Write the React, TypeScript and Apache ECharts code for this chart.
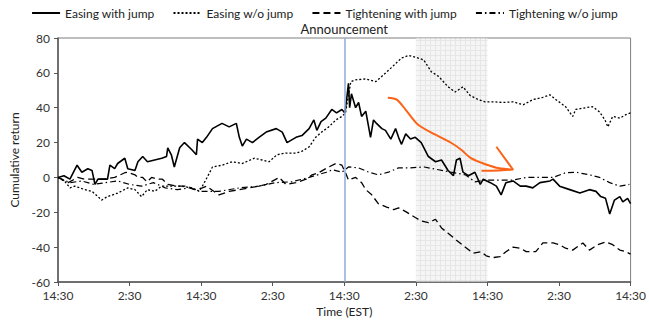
import React, { useEffect, useRef } from "react";
import * as echarts from "echarts";

const seriesNames = ["Easing with jump", "Easing w/o jump", "Tightening with jump", "Tightening w/o jump"];
const xTickLabels = ["14:30", "2:30", "14:30", "2:30", "14:30", "2:30", "14:30", "2:30", "14:30"];
const announcementHour = 48;
const shadedRange = [60, 72];

const easingJump: number[][] = [
  [0,0],[1,1],[2,-1],[3.2,7],[4,3],[5,5],[5.7,4],[6.2,-4],[6.7,-1],[8.3,-1],[8.7,7],[9.5,5],[10,8],[11.2,11],[11.7,5],[12.9,4],[13.4,9],[14.2,12],[15,9],[16.2,10],[17.4,11],[18.2,12],[18.4,17],[19,13],[19.5,6],[20.4,17],[21.2,20],[22.4,16],[23.2,13],[23.4,22],[24.2,20],[24.9,23],[25.9,28],[27.5,31],[28.7,29],[29.9,31],[30.4,23],[30.9,18],[31.6,22],[32.6,20],[33.7,23],[34.9,26],[36.6,28],[37.6,26],[38.4,20],[39.9,23],[40.9,24],[42.1,28],[42.9,33],[43.4,27],[44.1,32],[44.9,34],[45.9,39],[46.7,37],[47.6,39],[48.1,37],[48.4,45],[48.7,54],[48.9,40],[49.2,48],[49.9,40],[50.4,43],[50.9,35],[51.6,38],[52.4,23],[52.9,33],[53.4,31],[54.3,28],[54.9,27],[55.8,22],[56.6,28],[57.1,23],[57.6,19],[58.3,25],[59.1,22],[59.9,23],[60.9,20],[62.1,12],[63.3,9],[64.3,10],[65.4,4],[66.3,1],[66.8,10],[67.4,11],[67.9,3],[68.8,1],[69.9,3],[70.8,-4],[71.3,-1],[72.5,-3],[73.5,-5],[74.3,-10],[75.1,-3],[76.3,-2],[77.5,-5],[78.5,-5],[79.6,-6],[80.8,-3],[82.5,-2],[83,-1],[84.1,-5],[85.8,-7],[87.5,-9],[89.1,-7],[90.2,-8],[91,-11],[91.8,-12],[92.5,-21],[93.3,-13],[94.2,-11],[94.7,-14],[95.5,-12],[96,-15]
];

const easingNoJump: number[][] = [
  [0,0],[1.2,-2.5],[2,-6],[2.8,-5],[4.5,-7],[5.7,-8],[6.7,-11],[7.3,-13],[8.3,-11],[10,-9],[11.7,-6],[12.9,-7],[14,-11],[15,-7],[16.2,-8],[17.4,-5],[18.4,-5],[20.7,-5],[22.4,-6],[23.7,-8],[24.2,-5],[25,0],[25.9,6],[27.5,7],[29.2,9],[30.9,8],[32.9,11],[34.2,10],[35.4,9],[36.7,13],[38.2,14],[39.9,14],[40.9,15],[42.1,17.5],[43.2,23],[44.2,26],[45.4,29],[46.6,33],[47.6,35],[48.2,37],[49.1,55],[49.9,56],[51.6,56.5],[53.3,55],[54.3,58],[55.9,63],[57.6,68.5],[58.8,70],[59.9,69],[61.3,67.5],[62.6,60.6],[63.8,58],[65.4,52],[66.6,49],[67.9,52],[69.1,47],[70.5,44.6],[71.6,43.4],[73,43.4],[74.6,43],[76.3,43.4],[78,41.7],[79.6,44.6],[81.3,46],[82.5,47.4],[83.5,44.6],[85.1,40.6],[86.3,35],[86.8,39],[88.5,40],[89.6,40.6],[90.8,37.6],[91.7,33],[92.2,29],[93,35],[94.2,34],[95.2,36],[96,37]
];

const tighteningJump: number[][] = [
  [0,0],[1.7,-3],[3.3,0],[4.5,-1],[6.2,-1],[7.8,-1],[9.5,0],[11.2,2.7],[11.7,3],[12.9,1.5],[13.4,0],[14.2,0],[14.9,-2.5],[15.7,0],[16.7,-1],[17.5,-1],[18.4,-4],[20,-5],[21.7,-5],[22.9,-7],[24.2,-6],[24.9,-5],[27,-10],[28.7,-8],[30.4,-7],[32.1,-6],[33.7,-5],[34.9,-4],[37.1,0],[38.2,-4],[39.9,-3],[41.6,-1],[42.6,1.5],[43.7,2.7],[45.4,6],[46.6,8],[47.6,7],[48.2,2.7],[48.7,-1.5],[49.9,0],[50.9,-3],[51.6,-7],[52.6,-10],[53.7,-15],[55.1,-17],[56.3,-18.5],[57.1,-17.5],[58.3,-19.6],[59.9,-23],[60.9,-25],[62.1,-26],[63.3,-24],[64.3,-29],[65.4,-32],[66.8,-36],[68.3,-40],[69.6,-43.5],[70.9,-42.6],[71.8,-45],[72.9,-46],[74.1,-45.5],[75.1,-42.6],[76.3,-40],[77.5,-40.6],[78.5,-42.6],[80.1,-42.6],[81.3,-37.6],[83,-37.6],[84.1,-38.6],[85.1,-40.6],[86.3,-41.7],[88,-37.6],[89.1,-41.7],[90.5,-38.6],[91.8,-37],[93,-38.6],[94.2,-41.7],[95.2,-42.6],[96,-44]
];

const tighteningNoJump: number[][] = [
  [0,0],[2,-3],[4,-2],[6,-4],[8,-3],[10,-2],[12,-4],[14,-5],[16,-3],[18,-6],[20,-7],[22,-6],[24,-8],[27,-8],[30.4,-6],[33.7,-5],[36.4,-3],[39.2,-2.5],[42.1,0],[45,3],[46,4.4],[47.6,3],[48.7,6],[50.4,5.5],[52.1,3],[53.7,1.5],[55.4,3],[57.1,5.5],[59.1,5.5],[61.4,6],[63.8,4.4],[65.9,3],[68.3,1.5],[69.9,-2.5],[71.6,-1.5],[73.5,-1.5],[76.3,-1.5],[78.5,0],[80.8,0],[83,0],[85.1,2.7],[86.8,3],[89.1,1.5],[90.8,0],[92.5,-3],[94.2,-5],[95.8,-4]
];

// hand-drawn orange arrow annotation (data coordinates)
const arrowCurve: number[][] = [
  [55.3,45.7],[56.8,44.6],[58.3,38.8],[60.4,30.2],[63.3,24.5],[65.9,19.9],[67.6,15.9],[69.1,11.4],[71.0,8.4],[73.5,5.6],[76.3,4.4],[71.0,3.8]
];
const arrowHead: number[][] = [[73.5,17.6],[76.3,4.4]];

const dashStyles: any[] = ["solid", [2, 2], [7, 4], [6, 3, 1.5, 3]];
const lineWidths = [1.6, 1.3, 1.3, 1.2];

export default function App() {
  const ref = useRef<HTMLDivElement>(null);
  useEffect(() => {
    if (!ref.current) return;
    const chart = echarts.init(ref.current, null, { renderer: "svg" });
    const c = document.createElement("canvas");
    c.width = 5;
    c.height = 5;
    const ctx = c.getContext("2d");
    if (ctx) {
      ctx.fillStyle = "#eeeeee";
      ctx.fillRect(0, 0, 5, 5);
      ctx.fillStyle = "#d6d6d6";
      ctx.fillRect(0, 0, 5, 1);
      ctx.fillRect(0, 0, 1, 5);
    }
    const font = "Lato";
    const allData = [easingJump, easingNoJump, tighteningJump, tighteningNoJump];
    const series: any[] = allData.map((d, i) => ({
      name: seriesNames[i],
      type: "line",
      data: d,
      symbol: "none",
      showSymbol: false,
      z: 3,
      lineStyle: { color: "#000", width: lineWidths[i], type: dashStyles[i] },
      itemStyle: { color: "#000" },
    }));
    series[0].markLine = {
      silent: true,
      symbol: "none",
      lineStyle: { color: "#8faadc", width: 1.5, type: "solid" },
      label: {
        show: true,
        position: "end",
        formatter: "Announcement",
        color: "#222",
        fontSize: 13,
        fontFamily: font,
        distance: 3,
      },
      data: [{ xAxis: announcementHour }],
    };
    series.push({
      name: "shade",
      type: "line",
      data: [],
      z: 4,
      markArea: {
        silent: true,
        itemStyle: { color: { image: c, repeat: "repeat" } as any, opacity: 0.6 },
        data: [[{ xAxis: shadedRange[0] }, { xAxis: shadedRange[1] }]],
      },
    });
    series.push({
      name: "arrow1",
      type: "line",
      data: arrowCurve,
      symbol: "none",
      smooth: 0.3,
      z: 5,
      lineStyle: { color: "#fb6318", width: 2 },
    });
    series.push({
      name: "arrow2",
      type: "line",
      data: arrowHead,
      symbol: "none",
      z: 5,
      lineStyle: { color: "#fb6318", width: 2 },
    });
    chart.setOption({
      animation: false,
      textStyle: { fontFamily: font },
      legend: {
        data: seriesNames,
        top: 2,
        left: "center",
        itemWidth: 28,
        itemHeight: 8,
        itemGap: 18,
        itemStyle: { opacity: 0 },
        textStyle: { fontSize: 12, color: "#222", fontFamily: font },
      },
      grid: {
        left: 58,
        right: 16,
        top: 38,
        bottom: 41,
        show: true,
        borderColor: "#7f7f7f",
        borderWidth: 1,
      },
      xAxis: {
        type: "value",
        min: 0,
        max: 96,
        interval: 12,
        name: "Time (EST)",
        nameLocation: "middle",
        nameGap: 23,
        nameTextStyle: { fontSize: 12, color: "#222", fontFamily: font },
        axisLine: { onZero: false, lineStyle: { color: "#555", width: 1.5 } },
        axisTick: { show: true, length: 4, lineStyle: { color: "#555" } },
        splitLine: { show: false },
        axisLabel: {
          fontSize: 12,
          color: "#333",
          margin: 7,
          formatter: (v: number) => xTickLabels[Math.round(v / 12)] ?? "",
        },
      },
      yAxis: {
        type: "value",
        min: -60,
        max: 80,
        interval: 20,
        name: "Cumulative return",
        nameLocation: "middle",
        nameGap: 34,
        nameTextStyle: { fontSize: 12, color: "#222", fontFamily: font },
        axisLine: { show: true, onZero: false, lineStyle: { color: "#555", width: 1.5 } },
        axisTick: { show: true, length: 4, lineStyle: { color: "#555" } },
        splitLine: { show: false },
        axisLabel: { fontSize: 12, color: "#333", margin: 8 },
      },
      series,
    });
    return () => chart.dispose();
  }, []);
  return <div ref={ref} style={{ position: "absolute", left: 0, top: 0, width: 649, height: 323 }} />;
}
